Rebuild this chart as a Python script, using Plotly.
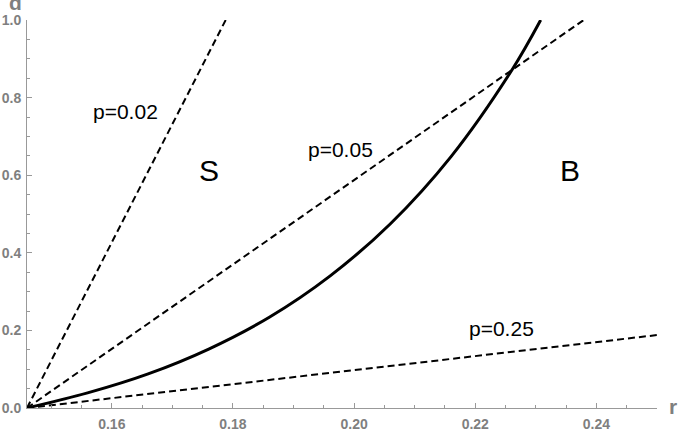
import plotly.graph_objects as go

# ---- data ----
r0 = 0.146
curve_r = [0.146, 0.156, 0.166, 0.176, 0.186, 0.196, 0.206, 0.216, 0.226, 0.2308]
curve_d = [0.0, 0.039, 0.088, 0.152, 0.234, 0.340, 0.475, 0.648, 0.870, 1.0]

p_labels = ["p=0.02", "p=0.05", "p=0.25"]
p_line_r = [[0.146, 0.1788], [0.146, 0.2379], [0.146, 0.25]]
p_line_d = [[0.0, 1.0], [0.0, 1.0], [0.0, 0.188]]
p_label_r = [0.1623, 0.1977, 0.2243]
p_label_d = [0.763, 0.665, 0.204]

region_labels = ["S", "B"]
region_r = [0.1760, 0.2357]
region_d = [0.612, 0.612]

x_ticks = [0.16, 0.18, 0.20, 0.22, 0.24]
x_ticktext = ["0.16", "0.18", "0.20", "0.22", "0.24"]
y_ticks = [0.0, 0.2, 0.4, 0.6, 0.8, 1.0]
y_ticktext = ["0.0", "0.2", "0.4", "0.6", "0.8", "1.0"]

fig = go.Figure()

for xs, ys in zip(p_line_r, p_line_d):
    fig.add_trace(go.Scatter(x=xs, y=ys, mode="lines",
                             line=dict(color="black", width=2, dash="7px,4px"),
                             showlegend=False, hoverinfo="skip"))

fig.add_trace(go.Scatter(x=curve_r, y=curve_d, mode="lines",
                         line=dict(color="black", width=3, shape="spline", smoothing=1.0),
                         showlegend=False, hoverinfo="skip"))

gray = "#7f7f7f"
tickfont = dict(family="Liberation Sans, Arial, sans-serif", size=14, color=gray, weight="bold")

fig.update_xaxes(range=[r0, 0.25], showgrid=False, zeroline=False, automargin=False,
                 showline=True, linecolor="#999999", linewidth=1,
                 ticks="inside", ticklen=5, tickwidth=1, tickcolor="#999999",
                 tickvals=x_ticks, ticktext=x_ticktext, tickfont=tickfont,
                 ticklabelstandoff=3,
                 minor=dict(ticks="inside", ticklen=3, tickwidth=1, dtick=0.005, tick0=0.0,
                            tickcolor="#999999", showgrid=False))
fig.update_yaxes(range=[0, 1.0], showgrid=False, zeroline=False, automargin=False,
                 showline=True, linecolor="#999999", linewidth=1,
                 ticks="inside", ticklen=5, tickwidth=1, tickcolor="#999999",
                 tickvals=y_ticks, ticktext=y_ticktext, tickfont=tickfont,
                 ticklabelstandoff=2,
                 minor=dict(ticks="inside", ticklen=3, tickwidth=1, dtick=0.05, tick0=0.0,
                            tickcolor="#999999", showgrid=False))

labfont = dict(family="Liberation Sans, Arial, sans-serif", size=21, color="black")
for t, x, y in zip(p_labels, p_label_r, p_label_d):
    fig.add_annotation(x=x, y=y, text=t, showarrow=False, font=labfont)
for t, x, y in zip(region_labels, region_r, region_d):
    fig.add_annotation(x=x, y=y, text=t, showarrow=False,
                       font=dict(family="Liberation Sans, Arial, sans-serif", size=30, color="black"))

# axis titles
fig.add_annotation(xref="paper", yref="paper", x=1.0, y=0.0, xanchor="left", yanchor="middle",
                   xshift=10, yshift=2, text="<b>r</b>", showarrow=False,
                   font=dict(family="Liberation Sans, Arial, sans-serif", size=21, color=gray))
fig.add_annotation(xref="paper", yref="paper", x=0.0, y=1.0, xanchor="center", yanchor="bottom",
                   xshift=-12, yshift=4, text="<b>d</b>", showarrow=False,
                   font=dict(family="Liberation Sans, Arial, sans-serif", size=21, color=gray))

fig.update_layout(width=681, height=436, margin=dict(l=27, r=24, t=20, b=28),
                  plot_bgcolor="white", paper_bgcolor="white")

fig.write_html("out.html")
